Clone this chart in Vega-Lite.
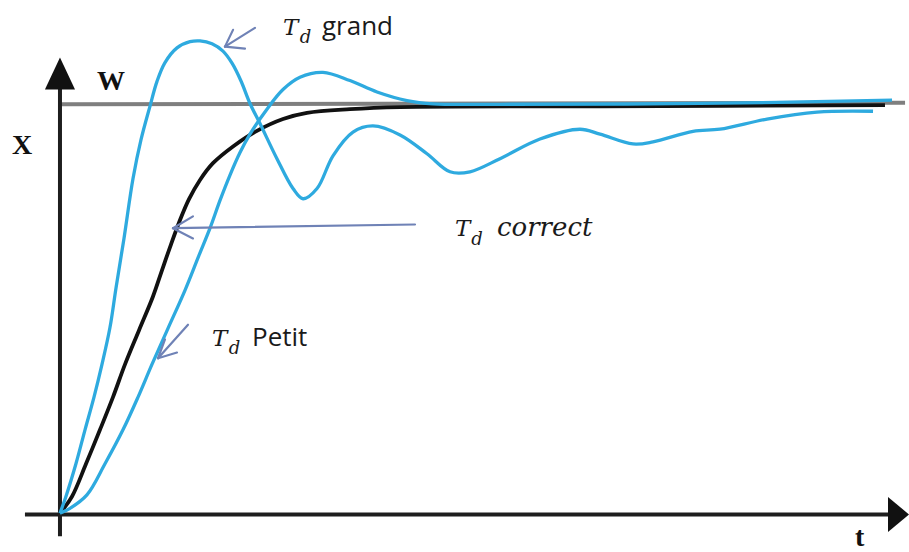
{
  "$schema": "https://vega.github.io/schema/vega-lite/v6.json",
  "width": 909,
  "height": 552,
  "autosize": {"type": "fit", "contains": "padding"},
  "padding": 0,
  "background": "white",
  "config": {"view": {"stroke": null}},
  "datasets": {
    "curves": [
      {"series": "Td grand", "t": 0, "x": 0},
      {"series": "Td grand", "t": 0.071, "x": 0.041},
      {"series": "Td grand", "t": 0.19, "x": 0.121},
      {"series": "Td grand", "t": 0.298, "x": 0.204},
      {"series": "Td grand", "t": 0.405, "x": 0.284},
      {"series": "Td grand", "t": 0.5, "x": 0.364},
      {"series": "Td grand", "t": 0.595, "x": 0.454},
      {"series": "Td grand", "t": 0.667, "x": 0.551},
      {"series": "Td grand", "t": 0.762, "x": 0.672},
      {"series": "Td grand", "t": 0.869, "x": 0.818},
      {"series": "Td grand", "t": 0.964, "x": 0.913},
      {"series": "Td grand", "t": 1.071, "x": 0.995},
      {"series": "Td grand", "t": 1.155, "x": 1.056},
      {"series": "Td grand", "t": 1.25, "x": 1.102},
      {"series": "Td grand", "t": 1.393, "x": 1.138},
      {"series": "Td grand", "t": 1.548, "x": 1.153},
      {"series": "Td grand", "t": 1.667, "x": 1.155},
      {"series": "Td grand", "t": 1.81, "x": 1.148},
      {"series": "Td grand", "t": 1.94, "x": 1.13},
      {"series": "Td grand", "t": 2.05, "x": 1.1},
      {"series": "Td grand", "t": 2.155, "x": 1.057},
      {"series": "Td grand", "t": 2.262, "x": 1.002},
      {"series": "Td grand", "t": 2.381, "x": 0.953},
      {"series": "Td grand", "t": 2.583, "x": 0.867},
      {"series": "Td grand", "t": 2.774, "x": 0.794},
      {"series": "Td grand", "t": 2.893, "x": 0.769},
      {"series": "Td grand", "t": 3.06, "x": 0.794},
      {"series": "Td grand", "t": 3.25, "x": 0.874},
      {"series": "Td grand", "t": 3.488, "x": 0.932},
      {"series": "Td grand", "t": 3.726, "x": 0.947},
      {"series": "Td grand", "t": 4.048, "x": 0.925},
      {"series": "Td grand", "t": 4.369, "x": 0.879},
      {"series": "Td grand", "t": 4.643, "x": 0.835},
      {"series": "Td grand", "t": 4.881, "x": 0.835},
      {"series": "Td grand", "t": 5.238, "x": 0.867},
      {"series": "Td grand", "t": 5.714, "x": 0.915},
      {"series": "Td grand", "t": 6.19, "x": 0.939},
      {"series": "Td grand", "t": 6.429, "x": 0.927},
      {"series": "Td grand", "t": 6.821, "x": 0.903},
      {"series": "Td grand", "t": 7.06, "x": 0.908},
      {"series": "Td grand", "t": 7.536, "x": 0.934},
      {"series": "Td grand", "t": 7.857, "x": 0.939},
      {"series": "Td grand", "t": 8.417, "x": 0.964},
      {"series": "Td grand", "t": 9.012, "x": 0.981},
      {"series": "Td grand", "t": 9.679, "x": 0.983},

      {"series": "Td petit", "t": 0, "x": 0},
      {"series": "Td petit", "t": 0.119, "x": 0.012},
      {"series": "Td petit", "t": 0.321, "x": 0.045},
      {"series": "Td petit", "t": 0.536, "x": 0.121},
      {"series": "Td petit", "t": 0.75, "x": 0.204},
      {"series": "Td petit", "t": 0.929, "x": 0.284},
      {"series": "Td petit", "t": 1.095, "x": 0.364},
      {"series": "Td petit", "t": 1.286, "x": 0.452},
      {"series": "Td petit", "t": 1.488, "x": 0.545},
      {"series": "Td petit", "t": 1.65, "x": 0.628},
      {"series": "Td petit", "t": 1.786, "x": 0.697},
      {"series": "Td petit", "t": 1.905, "x": 0.765},
      {"series": "Td petit", "t": 2.024, "x": 0.827},
      {"series": "Td petit", "t": 2.143, "x": 0.882},
      {"series": "Td petit", "t": 2.262, "x": 0.927},
      {"series": "Td petit", "t": 2.464, "x": 0.988},
      {"series": "Td petit", "t": 2.655, "x": 1.036},
      {"series": "Td petit", "t": 2.857, "x": 1.066},
      {"series": "Td petit", "t": 3.131, "x": 1.078},
      {"series": "Td petit", "t": 3.452, "x": 1.058},
      {"series": "Td petit", "t": 3.774, "x": 1.03},
      {"series": "Td petit", "t": 4.131, "x": 1.009},
      {"series": "Td petit", "t": 4.44, "x": 1.001},
      {"series": "Td petit", "t": 5.238, "x": 1.0},
      {"series": "Td petit", "t": 7.619, "x": 1.002},
      {"series": "Td petit", "t": 9.905, "x": 1.01},

      {"series": "Td correct", "t": 0, "x": 0},
      {"series": "Td correct", "t": 0.143, "x": 0.041},
      {"series": "Td correct", "t": 0.31, "x": 0.121},
      {"series": "Td correct", "t": 0.476, "x": 0.204},
      {"series": "Td correct", "t": 0.631, "x": 0.284},
      {"series": "Td correct", "t": 0.774, "x": 0.364},
      {"series": "Td correct", "t": 0.94, "x": 0.447},
      {"series": "Td correct", "t": 1.107, "x": 0.53},
      {"series": "Td correct", "t": 1.214, "x": 0.594},
      {"series": "Td correct", "t": 1.321, "x": 0.657},
      {"series": "Td correct", "t": 1.429, "x": 0.717},
      {"series": "Td correct", "t": 1.536, "x": 0.768},
      {"series": "Td correct", "t": 1.667, "x": 0.815},
      {"series": "Td correct", "t": 1.821, "x": 0.856},
      {"series": "Td correct", "t": 2.06, "x": 0.897},
      {"series": "Td correct", "t": 2.345, "x": 0.935},
      {"series": "Td correct", "t": 2.655, "x": 0.964},
      {"series": "Td correct", "t": 2.94, "x": 0.979},
      {"series": "Td correct", "t": 3.452, "x": 0.988},
      {"series": "Td correct", "t": 4.048, "x": 0.993},
      {"series": "Td correct", "t": 6.429, "x": 0.995},
      {"series": "Td correct", "t": 9.821, "x": 0.998}
    ],
    "guides": [
      {"part": "setpoint", "t": 0, "x": 1.0, "t2": 10.06, "x2": 1.004},
      {"part": "axis", "t": -0.417, "x": -0.003, "t2": 9.9, "x2": -0.003},
      {"part": "axis", "t": 0, "x": -0.056, "t2": 0, "x2": 1.04},
      {"part": "pointer", "t": 2.321, "x": 1.187, "t2": 1.964, "x2": 1.141},
      {"part": "pointer", "t": 1.964, "x": 1.141, "t2": 2.06, "x2": 1.182},
      {"part": "pointer", "t": 1.964, "x": 1.141, "t2": 2.202, "x2": 1.136},
      {"part": "pointer", "t": 1.345, "x": 0.697, "t2": 4.226, "x2": 0.706},
      {"part": "pointer", "t": 1.345, "x": 0.697, "t2": 1.583, "x2": 0.726},
      {"part": "pointer", "t": 1.345, "x": 0.697, "t2": 1.583, "x2": 0.672},
      {"part": "pointer", "t": 1.167, "x": 0.379, "t2": 1.524, "x2": 0.461},
      {"part": "pointer", "t": 1.167, "x": 0.379, "t2": 1.25, "x2": 0.425},
      {"part": "pointer", "t": 1.167, "x": 0.379, "t2": 1.393, "x2": 0.393}
    ],
    "heads": [
      {"axis": "t", "t": 9.982, "x": -0.003},
      {"axis": "x", "t": 0, "x": 1.075}
    ],
    "labels": [
      {"kind": "T", "text": "T", "t": 2.655, "x": 1.17},
      {"kind": "T", "text": "T", "t": 4.702, "x": 0.677},
      {"kind": "T", "text": "T", "t": 1.81, "x": 0.41},
      {"kind": "sub", "text": "d", "t": 2.855, "x": 1.15},
      {"kind": "sub", "text": "d", "t": 4.895, "x": 0.655},
      {"kind": "sub", "text": "d", "t": 2.01, "x": 0.39},
      {"kind": "word", "text": "grand", "t": 3.119, "x": 1.17},
      {"kind": "word", "text": "Petit", "t": 2.286, "x": 0.41},
      {"kind": "math", "text": "correct", "t": 5.202, "x": 0.677},
      {"kind": "axis", "text": "W", "t": 0.44, "x": 1.036},
      {"kind": "axis", "text": "X", "t": -0.571, "x": 0.879},
      {"kind": "axis", "text": "t", "t": 9.464, "x": -0.08}
    ]
  },
  "encoding": {
    "x": {"field": "t", "type": "quantitative", "axis": null,
          "scale": {"domain": [-0.714, 10.107], "nice": false, "zero": false}},
    "y": {"field": "x", "type": "quantitative", "axis": null,
          "scale": {"domain": [-0.085, 1.255], "nice": false, "zero": false}}
  },
  "layer": [
    {
      "data": {"name": "guides"},
      "transform": [{"filter": "datum.part === 'setpoint'"}],
      "mark": {"type": "rule", "stroke": "#7f7f7f", "strokeWidth": 4},
      "encoding": {"x2": {"field": "t2"}, "y2": {"field": "x2"}}
    },
    {
      "data": {"name": "guides"},
      "transform": [{"filter": "datum.part === 'axis'"}],
      "mark": {"type": "rule", "stroke": "#1e1e1e", "strokeWidth": 4},
      "encoding": {"x2": {"field": "t2"}, "y2": {"field": "x2"}}
    },
    {
      "data": {"name": "heads"},
      "transform": [{"filter": "datum.axis === 't'"}],
      "mark": {"type": "point", "shape": "M-0.6,-1L0.6,0L-0.6,1Z", "filled": true,
               "color": "#111111", "opacity": 1, "size": 1225}
    },
    {
      "data": {"name": "heads"},
      "transform": [{"filter": "datum.axis === 'x'"}],
      "mark": {"type": "point", "shape": "M-0.94,1L0,-1L0.94,1Z", "filled": true,
               "color": "#111111", "opacity": 1, "size": 1024}
    },
    {
      "data": {"name": "curves"},
      "transform": [{"filter": "datum.series === 'Td correct'"}],
      "mark": {"type": "line", "stroke": "#111111", "strokeWidth": 3.8, "interpolate": "catmull-rom"},
      "encoding": {"order": {"field": "t", "type": "quantitative"}}
    },
    {
      "data": {"name": "curves"},
      "transform": [{"filter": "datum.series !== 'Td correct'"}],
      "mark": {"type": "line", "stroke": "#2eaadf", "strokeWidth": 3.3, "interpolate": "catmull-rom"},
      "encoding": {"detail": {"field": "series"}, "order": {"field": "t", "type": "quantitative"}}
    },
    {
      "data": {"name": "guides"},
      "transform": [{"filter": "datum.part === 'pointer'"}],
      "mark": {"type": "rule", "stroke": "#6f82b6", "strokeWidth": 2.2, "strokeCap": "round"},
      "encoding": {"x2": {"field": "t2"}, "y2": {"field": "x2"}}
    },
    {
      "data": {"name": "labels"},
      "transform": [{"filter": "datum.kind === 'T'"}],
      "mark": {"type": "text", "font": "DejaVu Serif", "fontStyle": "italic", "fontSize": 23,
               "align": "left", "baseline": "alphabetic", "color": "#1a1a1a"},
      "encoding": {"text": {"field": "text"}}
    },
    {
      "data": {"name": "labels"},
      "transform": [{"filter": "datum.kind === 'sub'"}],
      "mark": {"type": "text", "font": "DejaVu Serif", "fontStyle": "italic", "fontSize": 18,
               "align": "left", "baseline": "alphabetic", "color": "#1a1a1a"},
      "encoding": {"text": {"field": "text"}}
    },
    {
      "data": {"name": "labels"},
      "transform": [{"filter": "datum.kind === 'word'"}],
      "mark": {"type": "text", "font": "Open Sans", "fontSize": 26,
               "align": "left", "baseline": "alphabetic", "color": "#1a1a1a"},
      "encoding": {"text": {"field": "text"}}
    },
    {
      "data": {"name": "labels"},
      "transform": [{"filter": "datum.kind === 'math'"}],
      "mark": {"type": "text", "font": "DejaVu Serif", "fontStyle": "italic", "fontSize": 26,
               "align": "left", "baseline": "alphabetic", "color": "#1a1a1a"},
      "encoding": {"text": {"field": "text"}}
    },
    {
      "data": {"name": "labels"},
      "transform": [{"filter": "datum.kind === 'axis'"}],
      "mark": {"type": "text", "font": "Liberation Serif", "fontWeight": "bold", "fontSize": 28,
               "align": "left", "baseline": "alphabetic", "color": "#111111"},
      "encoding": {"text": {"field": "text"}}
    }
  ]
}
